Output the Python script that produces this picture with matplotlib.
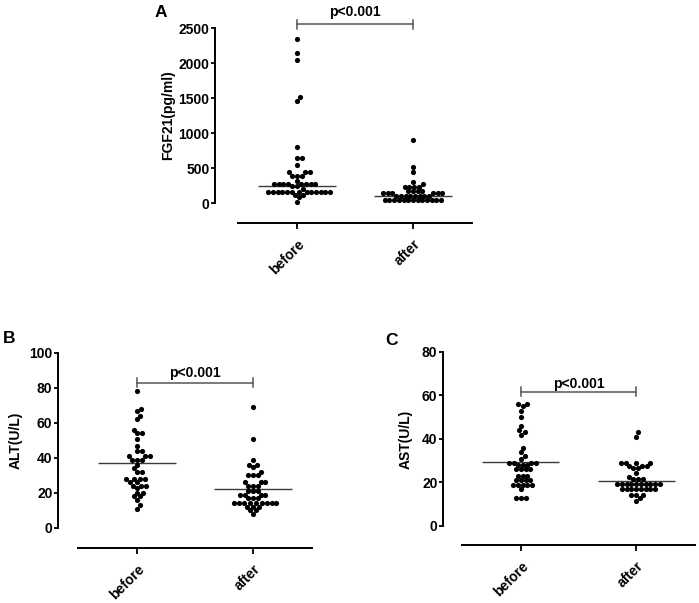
import numpy as np
import matplotlib
matplotlib.use('Agg')
import matplotlib.pyplot as plt

plt.rcParams['font.family'] = ['Liberation Sans', 'DejaVu Sans']
plt.rcParams['font.weight'] = 'bold'

groups = ['before', 'after']

# FGF21 (pg/ml)
fgf_before = [2340, 2140, 2050, 1510, 1460, 805, 650, 650, 545, 440, 440, 440,
              390, 390, 390, 320, 270, 270, 270, 270, 270, 270, 270, 270,
              240, 240, 195] + [160] * 13 + [115, 115, 80, 20]
fgf_after = [900, 510, 440, 295, 265, 230, 230, 230, 230, 165, 165, 165, 165] \
    + [140] * 6 + [100] * 8 + [40] * 13
fgf_lines = [250, 100]

# ALT (U/L)
alt_before = [78, 68, 67, 64, 62, 56, 54, 54, 51, 47, 44, 44, 41, 41, 41, 39, 39, 39,
              36, 34, 32, 32, 28, 28, 28, 28, 26, 26, 24, 24, 24, 23, 20, 20, 18, 18,
              16, 13, 11]
alt_after = [69, 51, 39, 36, 36, 35, 32, 30, 30, 30, 26, 26, 26, 24, 24, 24, 21, 21, 21,
             19, 19, 19, 19, 17, 17, 17] + [14] * 9 + [12, 12, 12, 10, 10, 8]
alt_lines = [37, 22.5]

# AST (U/L)
ast_before = [56, 56, 55, 53, 50, 46, 44, 43, 42, 36, 34, 32, 31, 29, 29, 29, 29, 28,
              28, 28, 26, 26, 26, 26, 23, 23, 23, 21, 21, 21, 21, 19, 19, 19, 19, 19,
              17, 13, 13, 13]
ast_after = [43, 41, 29, 29, 29, 29, 27.5, 27.5, 27.5, 26.5, 26.5, 24.5, 22.5,
             21.5, 21.5, 21.5] + [19.5] * 10 + [17] * 8 + [14.3, 14.3, 14.3, 12.8, 11.3]
ast_lines = [29.5, 20.5]

W, H = 699, 603
fig = plt.figure(figsize=(W / 100, H / 100), dpi=100)


def swarm(values, center, px_y, px_x, d=4.7):
    # simple beeswarm: put each dot as close to the centre as it can go
    ys = np.asarray(values, float) * px_y
    order = np.argsort(ys, kind='stable')
    placed = []
    offs = np.zeros(len(ys))
    for i in order:
        y = ys[i]
        cands = [0.0]
        for px, py in placed:
            dy = y - py
            if abs(dy) < d:
                dx = np.sqrt(d * d - dy * dy)
                cands += [px + dx, px - dx]
        cands.sort(key=abs)
        offs[i] = cands[-1]
        for c in cands:
            if all((c - px) ** 2 + (y - py) ** 2 >= d * d - 1e-6 for px, py in placed):
                offs[i] = c
                break
        placed.append((offs[i], y))
    return center + offs / px_x


def panel(box, series, lines, ylim, yticks, ylabel, letter, letter_xy,
          p_y, p_pad, spine_px, label_x):
    left, top, right, bottom = box
    rect = [left / W, 1 - bottom / H, (right - left) / W, (bottom - top) / H]
    ax = fig.add_axes(rect)
    xlim = (-0.51, 1.51)
    ax.set_xlim(*xlim)
    ax.set_ylim(*ylim)
    px_y = (bottom - top) / (ylim[1] - ylim[0])
    px_x = (right - left) / (xlim[1] - xlim[0])

    for i, vals in enumerate(series):
        xs = swarm(vals, i, px_y, px_x)
        ax.scatter(xs, vals, s=14, color='black', linewidths=0, zorder=3, clip_on=False)
        ax.hlines(lines[i], i - 0.335, i + 0.335, color='#3c3c3c', lw=1.0, zorder=2)

    # significance bracket
    e = 4.5 / px_y
    ax.plot([0, 1], [p_y, p_y], color='#555555', lw=1.1, clip_on=False)
    for xb in (0, 1):
        ax.plot([xb, xb], [p_y - e, p_y + e], color='#555555', lw=1.1, clip_on=False)
    ax.annotate('p<0.001', (0.5, p_y), xytext=(0, p_pad), textcoords='offset points',
                ha='center', va='bottom', fontsize=10, fontweight='bold',
                annotation_clip=False)

    for s in ('top', 'right'):
        ax.spines[s].set_visible(False)
    ax.spines['left'].set_position(('outward', spine_px * 0.72))
    ax.spines['left'].set_bounds(yticks[0], yticks[-1])
    ax.spines['left'].set_linewidth(1.4)
    ax.spines['bottom'].set_linewidth(1.4)

    ax.set_yticks(yticks)
    ax.set_xticks([0, 1])
    ax.set_xticklabels(groups, rotation=45, ha='right', rotation_mode='anchor')
    ax.tick_params(axis='y', length=3, width=1.3, pad=1, labelsize=10)
    ax.tick_params(axis='x', length=4, width=1.3, pad=6, labelsize=10)
    for t in ax.get_xticklabels() + ax.get_yticklabels():
        t.set_fontweight('bold')

    ax.set_ylabel(ylabel, fontsize=10, fontweight='bold')
    mid = (yticks[0] + yticks[-1]) / 2
    ax.yaxis.set_label_coords((label_x - left) / (right - left),
                              (mid - ylim[0]) / (ylim[1] - ylim[0]))
    fig.text(letter_xy[0] / W, 1 - letter_xy[1] / H, letter, fontsize=12.5,
             fontweight='bold', ha='left', va='baseline')
    return ax


panel((238, 28, 472, 223), [fgf_before, fgf_after], fgf_lines, (-285.7, 2500),
      list(range(0, 2501, 500)), 'FGF21(pg/ml)', 'A', (155, 17),
      2557, 3.5, 23, 175)
panel((78, 353, 312, 548), [alt_before, alt_after], alt_lines, (-11.43, 100),
      list(range(0, 101, 20)), 'ALT(U/L)', 'B', (3, 343),
      83, 2, 20, 23)
panel((462, 352, 695, 545), [ast_before, ast_after], ast_lines, (-8.74, 80),
      list(range(0, 81, 20)), 'AST(U/L)', 'C', (385, 345),
      61.7, 0.5, 19, 413)

fig.savefig('out.png', dpi=100)
